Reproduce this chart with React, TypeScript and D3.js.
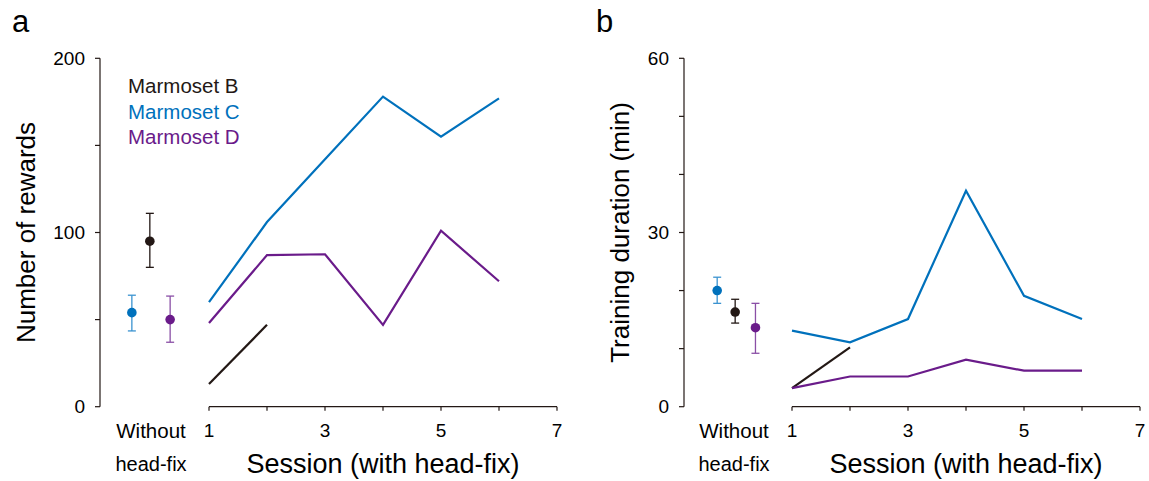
import React from 'react';
import * as d3 from 'd3';

// sessions with head-fix
const sessions = [1, 2, 3, 4, 5, 6];
const marmosets = ['Marmoset B', 'Marmoset C', 'Marmoset D'];
const colors = ['#231815', '#0071bc', '#6a1b8a'];
const capColors = ['#231815', '#3b93d0', '#8a4fa6'];

// panel a: number of rewards
const rewardsB = [13, 47];
const rewardsC = [60, 106, 142, 178, 155, 177];
const rewardsD = [48, 87, 87.5, 47, 101, 72];
// without head-fix: mean, low, high
const rewardsFreeMean = [95, 54, 50];
const rewardsFreeLow = [80, 43.5, 37];
const rewardsFreeHigh = [111, 64, 63.5];
const rewardsFreeOffset = [-0.02, -0.33, 0.33];
const rewardsTicks = [0, 50, 100, 150, 200];
const rewardsLabels = [0, 100, 200];

// panel b: training duration (min)
const durationB = [3.2, 10.2];
const durationC = [13.1, 11.1, 15.1, 37.2, 19.1, 15.1];
const durationD = [3.2, 5.2, 5.2, 8.1, 6.2, 6.2];
const durationFreeMean = [16.3, 20, 13.6];
const durationFreeLow = [14.4, 17.8, 9.2];
const durationFreeHigh = [18.5, 22.3, 17.8];
const durationFreeOffset = [0.02, -0.29, 0.37];
const durationTicks = [0, 10, 20, 30, 40, 50, 60];
const durationLabels = [0, 30, 60];

const sessionTicks = [1, 2, 3, 4, 5, 6, 7];
const sessionLabels = [1, 3, 5, 7];

const font = '"Liberation Sans", Arial, sans-serif';

function Panel({ letter, left, axisX, titleX, yMax, yTicks, yLabels, yTitle, series, freeMean, freeLow, freeHigh, freeOffset, legend }) {
  const x = d3.scaleLinear().domain([1, 7]).range([left, left + 348]);
  const y = d3.scaleLinear().domain([0, yMax]).range([406.7, 58.3]);
  const line = d3.line<number>()
    .x((d, i) => x(sessions[i]))
    .y((d) => y(d));
  const yMid = (y(0) + y(yMax)) / 2;

  return (
    <g>
      <text x={axisX - 88} y={32} fontSize={31} fontFamily={font}>{letter}</text>
      {/* y axis */}
      <line x1={axisX} x2={axisX} y1={y(0)} y2={y(yMax)} stroke="#231815" strokeWidth={1.2} />
      {yTicks.map((t) => (
        <line key={t} x1={axisX - 5} x2={axisX} y1={y(t)} y2={y(t)} stroke="#231815" strokeWidth={1.2} />
      ))}
      {yLabels.map((t) => (
        <text key={t} x={axisX - 15} y={y(t)} dy="0.35em" textAnchor="end" fontSize={19} fontFamily={font}>{t}</text>
      ))}
      <text transform={`translate(${titleX},${yMid}) rotate(-90)`} textAnchor="middle" fontSize={26} fontFamily={font}>{yTitle}</text>
      {/* x axis */}
      <line x1={x(1)} x2={x(7)} y1={y(0)} y2={y(0)} stroke="#231815" strokeWidth={1.2} />
      {sessionTicks.map((t) => (
        <line key={t} x1={x(t)} x2={x(t)} y1={y(0)} y2={y(0) + 4} stroke="#231815" strokeWidth={1.2} />
      ))}
      {sessionLabels.map((t) => (
        <text key={t} x={x(t)} y={437} textAnchor="middle" fontSize={19} fontFamily={font}>{t}</text>
      ))}
      <text x={x(0)} y={437.5} textAnchor="middle" fontSize={20.5} fontFamily={font}>Without</text>
      <text x={x(0)} y={471} textAnchor="middle" fontSize={20} fontFamily={font}>head-fix</text>
      <text x={x(4)} y={473} textAnchor="middle" fontSize={27} fontFamily={font}>Session (with head-fix)</text>
      {/* session lines */}
      {series.map((s, i) => (
        <path key={i} d={line(s)} fill="none" stroke={colors[i]} strokeWidth={2.2} />
      ))}
      {/* without head-fix */}
      {freeMean.map((m, i) => {
        const cx = x(freeOffset[i]);
        return (
          <g key={i}>
            <line x1={cx} x2={cx} y1={y(freeLow[i])} y2={y(freeHigh[i])} stroke={capColors[i]} strokeWidth={1.3} />
            <line x1={cx - 4} x2={cx + 4} y1={y(freeLow[i])} y2={y(freeLow[i])} stroke={capColors[i]} strokeWidth={1.3} />
            <line x1={cx - 4} x2={cx + 4} y1={y(freeHigh[i])} y2={y(freeHigh[i])} stroke={capColors[i]} strokeWidth={1.3} />
            <circle cx={cx} cy={y(m)} r={4.8} fill={colors[i]} />
          </g>
        );
      })}
      {legend && marmosets.map((name, i) => (
        <text key={name} x={128} y={86 + i * 25.5} dy="0.35em" fontSize={20.5} fill={colors[i]} fontFamily={font}>{name}</text>
      ))}
    </g>
  );
}

export default function App() {
  return (
    <svg width={1149} height={481} style={{ position: 'absolute', left: 0, top: 0, background: '#fff' }}>
      <Panel
        letter="a"
        left={209}
        axisX={100}
        titleX={35}
        yMax={200}
        yTicks={rewardsTicks}
        yLabels={rewardsLabels}
        yTitle="Number of rewards"
        series={[rewardsB, rewardsC, rewardsD]}
        freeMean={rewardsFreeMean}
        freeLow={rewardsFreeLow}
        freeHigh={rewardsFreeHigh}
        freeOffset={rewardsFreeOffset}
        legend
      />
      <Panel
        letter="b"
        left={792}
        axisX={684}
        titleX={629}
        yMax={60}
        yTicks={durationTicks}
        yLabels={durationLabels}
        yTitle="Training duration (min)"
        series={[durationB, durationC, durationD]}
        freeMean={durationFreeMean}
        freeLow={durationFreeLow}
        freeHigh={durationFreeHigh}
        freeOffset={durationFreeOffset}
        legend={false}
      />
    </svg>
  );
}
